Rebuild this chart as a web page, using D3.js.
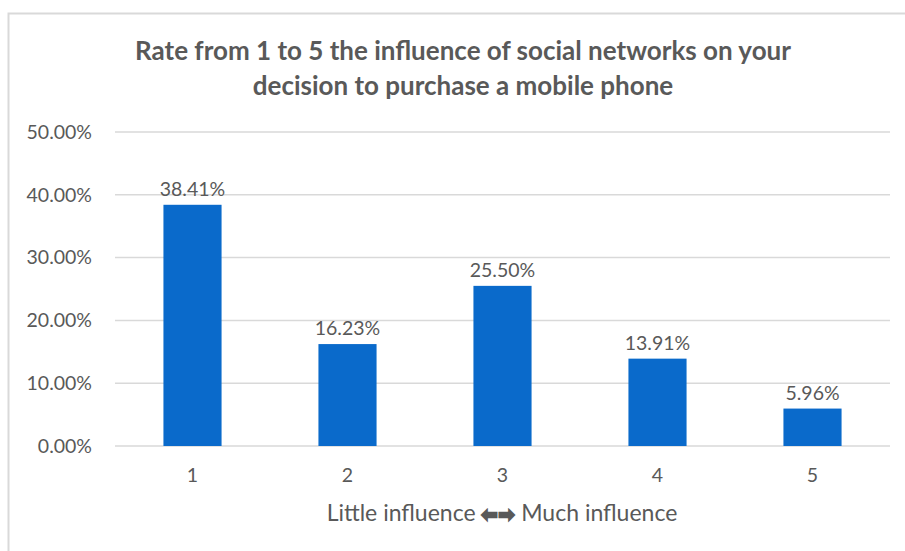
<!DOCTYPE html>
<html>
<head>
<meta charset="utf-8">
<script src="https://cdn.jsdelivr.net/npm/d3@7"></script>
<style>
  html, body { margin: 0; padding: 0; background: #fff; }
  svg { display: block; }
</style>
</head>
<body>
<svg id="chart" width="905" height="551"></svg>
<script>
// Survey responses: share of respondents per rating
const categories = ["1", "2", "3", "4", "5"];
const shares = [38.41, 16.23, 25.50, 13.91, 5.96];
const yTicks = [0, 10, 20, 30, 40, 50];
const titleLines = [
  "Rate from 1 to 5 the influence of social networks on your",
  "decision to purchase a mobile phone"
];
const axisTitle = ["Little influence ", "\u2B05\u27A1", " Much influence"];

const W = 905, H = 551;
const margin = { left: 115, right: 15, top: 132, bottom: 105 };
const svg = d3.select("#chart");
const textColor = "#595959";
const font = "Lato, 'Open Sans', sans-serif";
const labelSize = 19.5;

// chart frame
svg.append("rect")
  .attr("x", 8.5).attr("y", 13.5)
  .attr("width", W + 10).attr("height", H + 10)
  .attr("fill", "#fff").attr("stroke", "#d9d9d9").attr("stroke-width", 2);

const x = d3.scaleBand()
  .domain(categories)
  .range([margin.left, W - margin.right])
  .paddingInner(0.625).paddingOuter(0.3125);

const y = d3.scaleLinear()
  .domain([0, 50])
  .range([H - margin.bottom, margin.top]);

// gridlines
svg.append("g")
  .selectAll("line").data(yTicks).join("line")
  .attr("x1", margin.left).attr("x2", W - margin.right)
  .attr("y1", d => y(d)).attr("y2", d => y(d))
  .attr("stroke", "#d9d9d9").attr("stroke-width", 1.5);

// y axis labels
const yAxis = d3.axisLeft(y).tickValues(yTicks)
  .tickFormat(d => d.toFixed(2) + "%").tickSize(0).tickPadding(23);
const gy = svg.append("g").attr("transform", `translate(${margin.left},0)`).call(yAxis);
gy.select(".domain").remove();
gy.selectAll("text").attr("fill", textColor).attr("font-family", font).attr("font-size", labelSize);

// bars
svg.append("g")
  .selectAll("rect").data(shares).join("rect")
  .attr("x", (d, i) => x(categories[i]))
  .attr("width", x.bandwidth())
  .attr("y", d => y(d))
  .attr("height", d => y(0) - y(d))
  .attr("fill", "#0a6acb");

// value labels
svg.append("g")
  .selectAll("text").data(shares).join("text")
  .attr("x", (d, i) => x(categories[i]) + x.bandwidth() / 2)
  .attr("y", d => y(d) - 9)
  .attr("text-anchor", "middle")
  .attr("fill", textColor).attr("font-family", font).attr("font-size", labelSize)
  .text(d => d.toFixed(2) + "%");

// x axis labels
const xAxis = d3.axisBottom(x).tickSize(0).tickPadding(22);
const gx = svg.append("g").attr("transform", `translate(0,${y(0)})`).call(xAxis);
gx.select(".domain").remove();
gx.selectAll("text").attr("fill", textColor).attr("font-family", font).attr("font-size", labelSize);

// axis title with heavy double arrow
const at = svg.append("text")
  .attr("x", 502).attr("y", 521)
  .attr("text-anchor", "middle")
  .attr("fill", textColor).attr("font-family", font).attr("font-size", 23);
at.append("tspan").text(axisTitle[0]);
at.append("tspan")
  .attr("font-family", "'DejaVu Sans', sans-serif").attr("font-size", 19)
  .attr("stroke", textColor).attr("stroke-width", 2.2).attr("stroke-linejoin", "miter")
  .attr("letter-spacing", 1)
  .text(axisTitle[1]);
at.append("tspan").text(axisTitle[2]);

// title
svg.append("g")
  .selectAll("text").data(titleLines).join("text")
  .attr("x", 463).attr("y", (d, i) => 60 + i * 35)
  .attr("text-anchor", "middle")
  .attr("fill", textColor).attr("font-family", font)
  .attr("font-weight", "bold").attr("font-size", 26)
  .text(d => d);
</script>
</body>
</html>
